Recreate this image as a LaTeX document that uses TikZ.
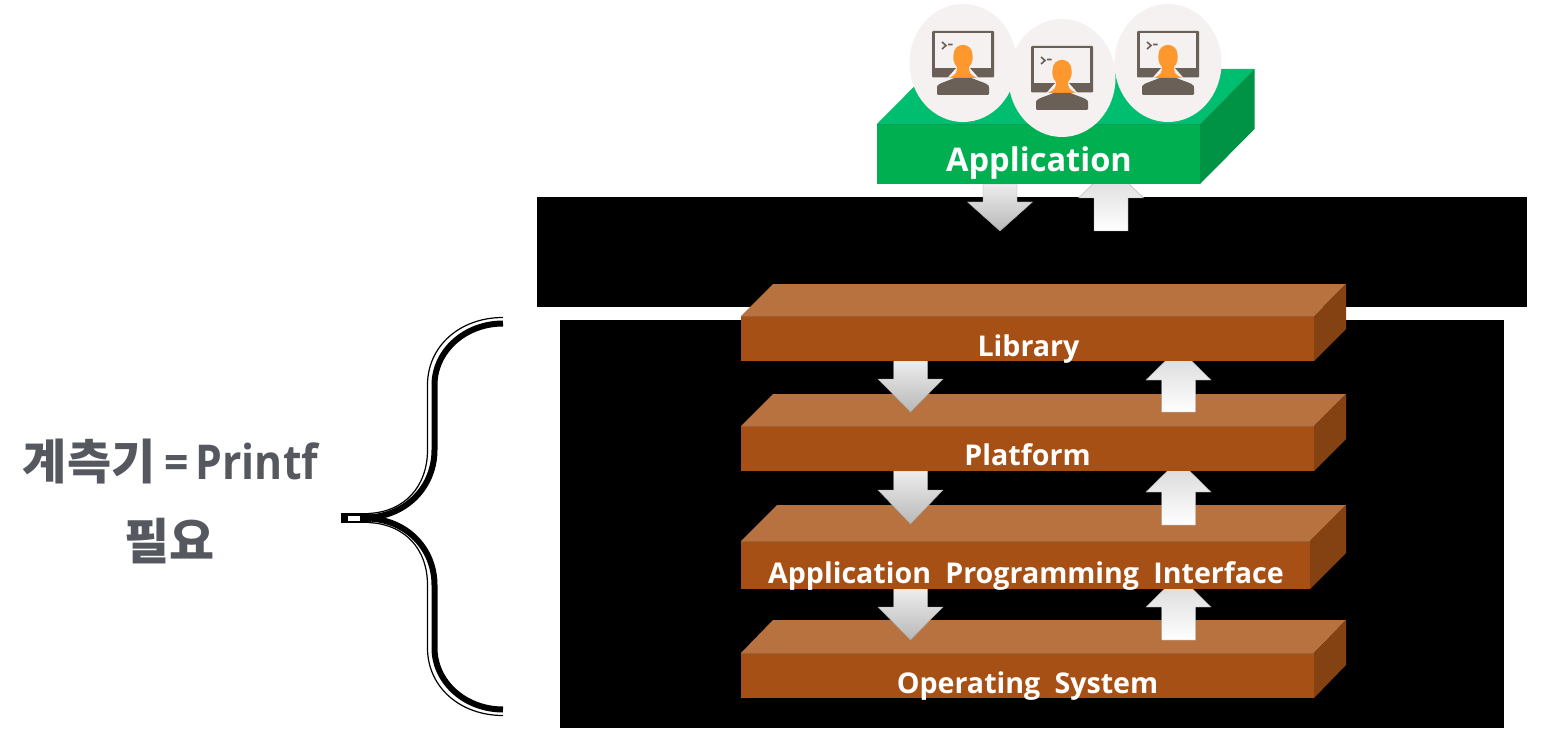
\documentclass[tikz,border=0pt]{standalone}
\usepackage{fontspec}
\setmainfont{Open Sans}
\newfontfamily\krfont{Noto Sans CJK KR}
\newfontfamily\pfont{Open Sans}[FakeStretch=0.89]
\usetikzlibrary{calc,shapes.geometric}
\definecolor{orf}{HTML}{A65016}\definecolor{ort}{HTML}{B87240}\definecolor{ors}{HTML}{844212}
\definecolor{grf}{HTML}{00B050}\definecolor{grt}{HTML}{00BE70}\definecolor{grs}{HTML}{009245}
\definecolor{disc}{HTML}{F4F1F0}\definecolor{mon}{HTML}{6A6058}\definecolor{skin}{HTML}{FD982E}
\definecolor{kgrey}{HTML}{55585E}
\newcommand{\wgap}{\hspace{3.4pt} }
\tikzset{
  panel/.style={fill=black,draw=none,inner sep=0pt},
  slabtext/.style={text=white,font=\bfseries\fontsize{14.3}{18}\selectfont,inner sep=0pt,anchor=base},
  kr/.style={text=kgrey,font=\bfseries\fontsize{24}{28}\selectfont,inner sep=0pt},
  frontface/.style={inner sep=0pt,outer sep=0pt,draw=none,anchor=north west},
  downfill/.style={top color=white!93!black,bottom color=white!72!black,draw=black!35,line width=.2pt},
  upfill/.style={top color=white!84!black,bottom color=white,draw=black!35,line width=.2pt},
}
% name, x0,y0,x1,y1, dx,dy, front,top,side
\newcommand{\slab}[9]{%
  \pgfmathsetlengthmacro{\slabw}{(#4-#2)*0.5pt}%
  \pgfmathsetlengthmacro{\slabh}{(#5-#3)*0.5pt}%
  \node[frontface,fill=#8,minimum width=\slabw,minimum height=\slabh] (#1) at (#2,#3) {};
  \fill[#9!100] (#1.north west) -- ++(#6,-#7) -- ($(#1.north east)+(#6,-#7)$) -- (#1.north east) -- cycle;
  \draw[#9!85!black,line width=.3pt] (#1.north west) -- (#1.north east);
}
\newcommand{\slabside}[4]{\fill[#4] (#1.north east) -- ++(#2,-#3) -- ($(#1.south east)+(#2,-#3)$) -- (#1.south east) -- cycle;}
% x, start y, head base y, tip y
\newcommand{\blockdown}[4]{\shade[downfill] (#1-17,#2) -- (#1+17,#2) -- (#1+17,#3) -- (#1+32.5,#3) -- (#1,#4) -- (#1-32.5,#3) -- (#1-17,#3) -- cycle;}
\newcommand{\blockup}[4]{\shade[upfill] (#1-17,#2) -- (#1+17,#2) -- (#1+17,#3) -- (#1+32.5,#3) -- (#1,#4) -- (#1-32.5,#3) -- (#1-17,#3) -- cycle;}
\newcommand{\person}[3]{%
  \begin{scope}[shift={(#2,#3)}]
    \node[ellipse,fill=disc,minimum width=53.5pt,minimum height=59pt,inner sep=0pt] (#1) at (0,0) {};
    \fill[mon,rounded corners=.5pt] (-31,-32) rectangle (31,14.5);
    \fill[disc] (-28,-29.5) rectangle (28,5);
    \draw[mon,line width=.8pt] (-21,-21) -- (-17,-17.5) -- (-21,-14) (-15,-18.5) -- (-10.5,-18.5);
    \fill[disc] (-16,15.5) -- (-13,12) -- (-5,3) -- (5,3) -- (13,12) -- (16,15.5) -- cycle;
    \fill[skin] (-14,14.5) .. controls (-7,12.5) and (-6,9) .. (-6,4) .. controls (-10,0) and (-10,-6) .. (-9.5,-8) .. controls (-9.5,-21.5) and (9.5,-21.5) .. (9.5,-8) .. controls (10,-6) and (10,0) .. (6,4) .. controls (6,9) and (7,12.5) .. (14,14.5) -- (0,16) -- cycle;
    \fill[mon,rounded corners=.6pt] (-26,32) -- (-26,24) .. controls (-25,20.5) and (-15,18) .. (-9,15) -- (9,15) .. controls (15,18) and (25,20.5) .. (26,24) -- (26,32) -- cycle;
  \end{scope}}
\begin{document}
\begin{tikzpicture}[x=.5pt,y=-.5pt]
\useasboundingbox (0,0) rectangle (1544,749);
\node[panel,minimum width=495pt,minimum height=55pt,anchor=north west] (midpanel) at (537,197) {};
\node[panel,minimum width=472pt,minimum height=204pt,anchor=north west] (lowpanel) at (560,320) {};
% brace
\coordinate (bt) at (503,323.5);
\coordinate (bb) at (503,709.5);
\draw[line width=3pt,line cap=butt] (bt) .. controls (465,323.5) and (434.5,351) .. (434.5,385) -- (434.5,450) .. controls (434.5,487) and (406,516) .. (368,517.5);
\draw[line width=3pt,line cap=butt] (bb) .. controls (465,709.5) and (434.5,682) .. (434.5,648) -- (434.5,585) .. controls (434.5,548) and (406,519.5) .. (368,518.5);
\draw[line width=.6pt] (503,317.5) .. controls (460,317.5) and (427.5,346) .. (427.5,385) -- (427.5,450) .. controls (427.5,486) and (405,512) .. (368,513.5);
\draw[line width=.6pt] (503,715.5) .. controls (460,715.5) and (427.5,687) .. (427.5,648) -- (427.5,585) .. controls (427.5,549) and (405,524) .. (368,522.5);
\node[fill=black,minimum width=15pt,minimum height=5pt,inner sep=0pt,anchor=west] (btip) at (341,518) {};
\fill[white] (348,515.5) rectangle (360,521);
\node[kr,anchor=center] (klabel1) at (170.5,462) {{\krfont 계측기}\hspace{4.5pt}{\pfont =}\hspace{3.5pt}{\pfont Printf}};
\node[kr,font=\krfont\bfseries\fontsize{24.5}{28}\selectfont,anchor=center] (klabel2) at (170,541) {필요};
% Operating System
\slab{os}{741}{653}{1314}{698}{32}{33}{orf}{ort}
\slabside{os}{32}{33}{ors}
\blockdown{910.5}{589}{607}{640}
\blockup{1178.5}{640}{607}{575}
% API
\slab{api}{741}{541}{1310}{589}{36}{36}{orf}{ort}
\slabside{api}{36}{36}{ors}
\blockdown{910.5}{471}{490}{524}
\blockup{1178.5}{525}{492}{460}
% Platform
\slab{plat}{741}{426}{1314}{471}{32}{32}{orf}{ort}
\slabside{plat}{32}{32}{ors}
\blockdown{910.5}{361}{379}{412}
\blockup{1178.5}{412}{380}{348}
% Library
\slab{lib}{741}{316}{1314}{361}{32}{32}{orf}{ort}
\slabside{lib}{32}{32}{ors}
\node[slabtext] (tlib) at (1028.5,356) {Library};
\node[slabtext] (tplat) at (1027.5,465) {Platform};
\node[slabtext] (tapi) at (1026,583) {Application\wgap Programming\wgap Interface};
\node[slabtext] (tos) at (1027.5,693) {Operating\wgap System};
% Application
\blockdown{1000}{184}{202}{231}
\blockup{1111}{231}{198}{166}
\slab{app}{877}{124}{1200}{184}{54.5}{55}{grf}{grt}
\slabside{app}{54.5}{55}{grs}
\person{p1}{963}{63}
\person{p3}{1168}{63}
\person{p2}{1062}{78}
\node[slabtext,font=\bfseries\fontsize{16.3}{20}\selectfont] (tapp) at (1039,172) {Application};
\end{tikzpicture}
\end{document}
